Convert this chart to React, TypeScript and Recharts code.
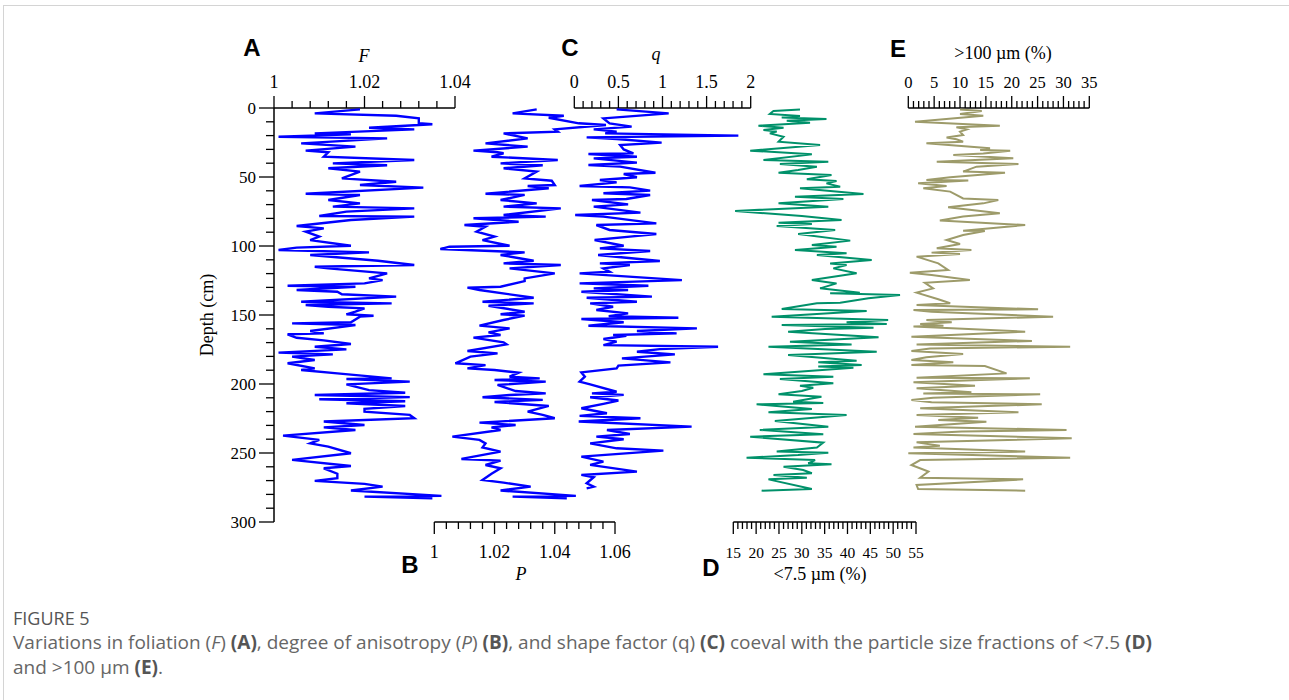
import React from "react";
import { ScatterChart, Scatter, XAxis, YAxis, ReferenceLine } from "recharts";

// [depth (cm), value] pairs
const foliation: [number, number][] = [
  [1, 1.019], [3.9, 1.009], [5.6, 1.027], [7.5, 1.032], [11.1, 1.032], [11.8, 1.035], [14.3, 1.021], [15.5, 1.031],
  [18.4, 1.009], [19.1, 1.017], [20.8, 1.001], [22, 1.025], [25.6, 1.006], [28, 1.018], [30.9, 1.007], [32.1, 1.012],
  [35.3, 1.011], [37.7, 1.031], [40.1, 1.013], [41.5, 1.025], [43.7, 1.012], [46.1, 1.019], [51, 1.015], [53.4, 1.027],
  [55.8, 1.019], [57.7, 1.033], [62.1, 1.007], [63, 1.019], [66.7, 1.012], [69.1, 1.019], [71.5, 1.013], [72.7, 1.031],
  [75.1, 1.016], [78.3, 1.01], [78.7, 1.031], [81.2, 1.017], [85.5, 1.005], [87.2, 1.011], [89.6, 1.007], [93.2, 1.01],
  [95.7, 1.008], [99.8, 1.017], [101.2, 1.005], [102.9, 1.001], [104.6, 1.021], [106.5, 1.008], [110.7, 1.023],
  [113.8, 1.031], [115, 1.009], [116.2, 1.012], [119.8, 1.025], [123.5, 1.021], [124.7, 1.024], [127.1, 1.02],
  [128.8, 1.003], [129.5, 1.018], [131.9, 1.005], [133.1, 1.014], [135, 1.015], [136.7, 1.027], [140.4, 1.006],
  [141.6, 1.026], [142.8, 1.007], [144, 1.012], [145.2, 1.02], [147.6, 1.018], [149.5, 1.016], [150.5, 1.022],
  [151.2, 1.019], [155.3, 1.017], [156.1, 1.004], [157.3, 1.018], [161.6, 1.008], [163.3, 1.011], [164, 1.003],
  [166.5, 1.005], [168.4, 1.011], [171, 1.017], [173, 1.009], [174.9, 1.016], [177.3, 1.001], [178.5, 1.013],
  [180.2, 1.004], [182.6, 1.009], [185, 1.003], [188.7, 1.009], [189.9, 1.006], [192.3, 1.014], [195.9, 1.026],
  [196.4, 1.016], [198.3, 1.03], [200.3, 1.016], [204.4, 1.021], [206.3, 1.029], [208, 1.009], [209.5, 1.03],
  [211, 1.01], [212.5, 1.029], [214, 1.016], [215.9, 1.029], [218, 1.02], [220, 1.02], [222.4, 1.03], [224.8, 1.031],
  [227.2, 1.011], [229.7, 1.02], [231.4, 1.011], [233.3, 1.018], [237.4, 1.002], [240.5, 1.01], [243, 1.008],
  [245.4, 1.012], [250.2, 1.017], [255, 1.004], [259.4, 1.017], [261.1, 1.011], [265, 1.014], [268.3, 1.014],
  [270.2, 1.009], [272.4, 1.02], [274.4, 1.024], [277.2, 1.017], [281.1, 1.037], [281.6, 1.02], [282.8, 1.035],
];

const anisotropy: [number, number][] = [
  [1, 1.034], [3.9, 1.026], [5.6, 1.043], [7.1, 1.038], [11.1, 1.048], [12.3, 1.057], [15.5, 1.04], [17.1, 1.041],
  [18.4, 1.023], [22, 1.031], [25.6, 1.017], [28, 1.031], [30.9, 1.013], [32.1, 1.021], [32.8, 1.023], [35.3, 1.019],
  [37.7, 1.041], [40.1, 1.022], [41.5, 1.036], [43.7, 1.023], [46.1, 1.034], [51, 1.03], [52.7, 1.039], [55.8, 1.04],
  [56.5, 1.031], [58.2, 1.038], [62.1, 1.017], [63, 1.03], [66.7, 1.022], [69.1, 1.034], [71.5, 1.023], [72.7, 1.042],
  [77.5, 1.023], [78.7, 1.037], [79.9, 1.013], [82.4, 1.028], [84.8, 1.01], [86, 1.017], [89.6, 1.014], [93.2, 1.02],
  [95.7, 1.016], [99.8, 1.025], [100.5, 1.005], [102.2, 1.002], [104.6, 1.03], [106.5, 1.022], [110.7, 1.033],
  [112.6, 1.023], [113.8, 1.042], [116.2, 1.025], [119.8, 1.04], [123.5, 1.03], [125.4, 1.03], [129.5, 1.022],
  [130.2, 1.011], [131.9, 1.015], [137.5, 1.033], [140.4, 1.016], [141.6, 1.033], [143.3, 1.018], [147.6, 1.03],
  [149.5, 1.022], [150.5, 1.03], [153.6, 1.023], [157.7, 1.015], [159.7, 1.025], [162.6, 1.018], [164.5, 1.022],
  [166.4, 1.013], [169.8, 1.023], [171.3, 1.024], [176.1, 1.011], [177.8, 1.021], [180.2, 1.012], [185, 1.007],
  [186.3, 1.017], [188.7, 1.011], [189.9, 1.02], [191.8, 1.028], [194.7, 1.025], [195.9, 1.035], [197.1, 1.02],
  [198.3, 1.037], [200.7, 1.021], [205.1, 1.027], [206.8, 1.037], [208, 1.025], [209.6, 1.016], [211.5, 1.036],
  [213, 1.02], [215.9, 1.038], [220, 1.031], [222.4, 1.036], [224.8, 1.04], [228, 1.015], [229.7, 1.027],
  [231.4, 1.019], [233.3, 1.022], [238.1, 1.006], [240.5, 1.015], [243, 1.017], [246, 1.016], [249, 1.022],
  [254.3, 1.009], [255.5, 1.022], [258.7, 1.017], [261.1, 1.022], [265, 1.019], [269.5, 1.016], [271.5, 1.023],
  [274.4, 1.032], [277.2, 1.022], [281.1, 1.047], [281.6, 1.026], [282.8, 1.044],
];

const shapeFactor: [number, number][] = [
  [1, 0.48], [3.9, 1.07], [7.5, 0.33], [11.1, 0.4], [13.5, 0.65], [15.5, 0.22], [17.1, 0.48], [18.4, 0.35],
  [20, 1.86], [21.3, 0.14], [22.5, 0.48], [25.1, 0.99], [26.8, 0.52], [30, 0.56], [32.9, 0.67], [33.3, 0.16],
  [35.3, 0.71], [36.5, 0.22], [39.6, 0.71], [41.3, 0.16], [42.5, 0.52], [46.9, 0.92], [47.8, 0.56], [50.2, 0.71],
  [52.2, 0.29], [53.9, 0.48], [56.5, 0.06], [57.5, 0.63], [59.9, 0.86], [61.8, 0.33], [63, 0.86], [65.9, 0.59],
  [66.7, 0.2], [69.8, 0.61], [71.5, 0.22], [75.8, 0.75], [77.5, 0.01], [78.7, 0.33], [83.6, 0.93], [84.8, 0.25],
  [88.4, 0.4], [91.3, 0.93], [93.2, 0.63], [95.7, 0.23], [99.8, 0.56], [101.7, 0.29], [103.6, 0.86], [106.5, 0.27],
  [110.9, 0.97], [112.6, 0.29], [113.8, 0.63], [116.2, 0.33], [118.6, 0.4], [119.8, 0.06], [124.7, 1.22],
  [127.1, 0.06], [128.8, 0.84], [130.7, 0.22], [131.9, 0.61], [133.1, 0.08], [136.7, 0.88], [137.5, 0.14],
  [140.4, 0.71], [141.6, 0.18], [144, 0.44], [146.4, 0.25], [148.8, 0.61], [150.8, 0.39], [152, 1.18], [152.9, 0.08],
  [155.3, 0.56], [157.8, 0.16], [159.7, 1.39], [161.6, 0.71], [163.3, 1.16], [164.5, 0.44], [165, 0.59], [167.4, 0.33],
  [169.3, 0.48], [171.8, 0.33], [173, 1.63], [174.7, 0.97], [176.6, 0.71], [178.5, 1.14], [181.4, 0.54], [184.3, 1.09],
  [186.7, 0.5], [188.7, 0.48], [191.6, 0.08], [194.7, 0.12], [198.3, 0.06], [200.3, 0.18], [205.6, 0.48], [206.8, 0.2],
  [207.9, 0.56], [209.6, 0.18], [212, 0.5], [214.4, 0.33], [217.6, 0.08], [221.2, 0.37], [223.1, 0.06], [224.8, 0.75],
  [227.2, 0.05], [230.9, 1.33], [233.3, 0.37], [236.2, 0.63], [238.1, 0.25], [240, 0.56], [243, 0.18], [246.6, 0.48],
  [248.3, 1.01], [252.6, 0.08], [256.2, 0.33], [258.6, 0.18], [263.5, 0.71], [265.9, 0.08], [267.6, 0.22],
  [271.9, 0.14], [274.4, 0.22], [275.6, 0.14],
];

// <7.5 µm (%)
const fineFraction: [number, number][] = [
  [1, 29.6], [2.2, 23.8], [4.3, 23], [5.8, 29.6], [6.8, 25.6], [8, 35.4], [9.2, 26.7], [10.6, 31.8], [12.8, 20.5],
  [14.3, 26], [15.9, 21.6], [17.1, 24.5], [18.4, 23], [20.8, 26], [24.4, 24.9], [26.8, 34], [30.9, 18.7], [33.6, 32.2],
  [37.7, 21.6], [38.9, 35.8], [40.6, 25.2], [42.5, 33.3], [44.9, 29.2], [46.9, 24.9], [48.6, 36.5], [51.7, 31.1],
  [52.9, 37.6], [54.6, 35.4], [57, 38.4], [58.2, 29.6], [62.3, 43.5], [64.3, 28.5], [65.9, 39.1], [69.1, 24.9],
  [71.5, 35.8], [74.6, 15.4], [78.3, 30], [81.2, 38.7], [83.1, 24.9], [84.1, 32.2], [85.5, 24.5], [88.4, 37.3],
  [91.3, 29.2], [96.1, 40.6], [99.3, 32.2], [100.5, 37.6], [102.9, 28.5], [105.3, 39.8], [106.5, 33.3], [110.1, 45.3],
  [112.6, 36.2], [113.8, 39.8], [116.2, 36.9], [119.8, 42], [124.6, 32.2], [127.1, 37.6], [130.7, 34], [133.8, 42.7],
  [134.3, 36.2], [135.5, 51.5], [137.9, 44.6], [141.1, 38.4], [141.5, 33.3], [145.7, 25.6], [147.1, 44.2],
  [148.1, 38.7], [151.2, 23.4], [153.6, 48.9], [155.3, 39.8], [156.5, 48.6], [157.2, 25.6], [159.2, 45.7],
  [160.1, 35.1], [162.1, 27], [166.2, 46.8], [169.3, 27.4], [171.3, 40.9], [173, 22.7], [174.9, 34.7], [176.6, 46.4],
  [179, 27], [183.1, 42], [184.3, 33.6], [186.2, 43.1], [187.4, 33.6], [188.2, 41.3], [193, 21.6], [194.7, 36.9],
  [196.4, 25.2], [199.5, 36.9], [201.2, 29.6], [202.7, 32.5], [205.1, 30], [207.5, 24.9], [209.2, 34.3], [212.8, 28.1],
  [213.8, 34.7], [214.7, 20.1], [218.1, 32.2], [220.5, 22.7], [222.5, 39.8], [226.8, 24.1], [230.9, 35.8],
  [233.3, 20.8], [236.5, 34.7], [238.2, 18.7], [242.5, 34.7], [246.1, 33.3], [249, 24.5], [249.8, 35.8], [251.5, 29.2],
  [253.4, 17.9], [255.1, 32.9], [257.5, 31.4], [258.2, 36.5], [259.9, 26], [262.3, 30.3], [264.7, 32.2], [266, 23.8],
  [267.9, 31.1], [269.1, 22.7], [276.1, 32.2], [277.3, 21.2],
];

// >100 µm (%)
const coarseFraction: [number, number][] = [
  [1, 10], [2.2, 14.2], [4.3, 10], [5.6, 14.5], [9.9, 1.3], [12.8, 17.7], [14, 9.3], [15.5, 11.3], [17.1, 10],
  [19.6, 10.6], [21.3, 7.4], [22.7, 9.3], [24.4, 10.6], [25.6, 3.5], [29.2, 15.8], [30.4, 13.9], [30.9, 19.7],
  [32.9, 14.5], [34.1, 8.7], [36.5, 20.3], [38.9, 5.5], [40.6, 21.3], [42.5, 13.2], [46.1, 10.6], [46.9, 18.7],
  [50.2, 8.1], [52.2, 3.5], [52.6, 11.6], [54.6, 1.9], [56.5, 7.4], [58.2, 2.9], [60.6, 8.1], [65.5, 10.6],
  [66.7, 17.4], [69.1, 14.5], [72, 7.7], [76.3, 17.7], [78.7, 10.6], [81.6, 6.1], [84.8, 22.6], [88.9, 10.6],
  [89.1, 14.8], [92, 10.6], [95.7, 7.4], [98.6, 10], [101.7, 5.5], [102.9, 12.2], [104.8, 4.5], [105.8, 10],
  [107.7, 1.6], [112.6, 5.8], [117.4, 7.7], [119.3, 0.3], [121, 4.5], [124.6, 11.9], [126.6, 3.2], [130.7, 4.8],
  [133.8, 1.6], [138.6, 5.8], [141.5, 8.1], [142.8, 1.6], [145.9, 25.1], [146.4, 1], [147.6, 4.5], [151.2, 28],
  [153.6, 3.5], [155.3, 8.4], [156.5, 2.3], [157.7, 6.8], [158.4, 1], [162.1, 22.6], [165.7, 0.6], [168.8, 23.9],
  [171.3, 1.6], [173, 31.3], [174.2, 4.2], [176.1, 0.6], [178.3, 10.6], [180.7, 3.5], [182.6, 0.6], [184.3, 8.7],
  [186.2, 0.6], [187, 14.8], [192.3, 19], [195.4, 1.6], [195.9, 23.5], [198.8, 1], [201.2, 12.9], [203.1, 1.6],
  [206, 12.2], [206.8, 2.9], [207.5, 25.5], [209.9, 4.8], [211.6, 0.6], [213.3, 4.5], [214.7, 25.8], [217.6, 2.3],
  [220.5, 21.3], [222.5, 1.6], [224.4, 13.5], [226.1, 5.8], [227.3, 15.1], [230.9, 1.3], [233.3, 30.6], [234.5, 10.3],
  [236.2, 1], [239.4, 31.6], [242.3, 1.6], [244.7, 6.1], [246.1, 1], [249, 22.6], [250.2, 0], [253.4, 31.3],
  [255.1, 2.3], [258.7, 0.6], [263.5, 3.9], [267.9, 2.3], [269.1, 22.2], [273.2, 1.6], [276.1, 1.9], [277.3, 22.6],
];

const depthTicks = [0, 10, 20, 30, 40, 50, 60, 70, 80, 90, 100, 110, 120, 130, 140, 150, 160, 170, 180, 190, 200,
  210, 220, 230, 240, 250, 260, 270, 280, 290, 300];
const depthLabels = [0, 50, 100, 150, 200, 250, 300];

const fTicks = [1, 1.004, 1.008, 1.012, 1.016, 1.02, 1.024, 1.028, 1.032, 1.036, 1.04];
const fLabels = [1, 1.02, 1.04];
const pTicks = [1, 1.004, 1.008, 1.012, 1.016, 1.02, 1.024, 1.028, 1.032, 1.036, 1.04, 1.044, 1.048, 1.052, 1.056, 1.06];
const pLabels = [1, 1.02, 1.04, 1.06];
const qTicks = [0, 0.1, 0.2, 0.3, 0.4, 0.5, 0.6, 0.7, 0.8, 0.9, 1, 1.1, 1.2, 1.3, 1.4, 1.5, 1.6, 1.7, 1.8, 1.9, 2];
const qLabels = [0, 0.5, 1, 1.5, 2];
const fineTicks = Array.from({ length: 41 }, (_, i) => 15 + i);
const fineLabels = [15, 20, 25, 30, 35, 40, 45, 50, 55];
const coarseTicks = Array.from({ length: 36 }, (_, i) => i);
const coarseLabels = [0, 5, 10, 15, 20, 25, 30, 35];

const W = 1289;
const H = 700;
const PLOT_L = 274;
const PLOT_R = 1090;
const PLOT_T = 108;
const PLOT_B = 522;
const Y_AXIS_W = 60;

// each panel's scale only occupies part of the shared plot width
function span(v0: number, v1: number, p0: number, p1: number): [number, number] {
  const k = (v1 - v0) / (p1 - p0);
  return [v0 - (p0 - PLOT_L) * k, v1 + (PLOT_R - p1) * k];
}

const SERIF = "Liberation Serif";
const BLUE = "#0000ff";
const GREEN = "#00916a";
const OLIVE = "#9d9b6a";

const toPoints = (rows: [number, number][]) => rows.map(([d, v]) => ({ d, v }));

const isIn = (list: number[], v: number) => list.some((l) => Math.abs(l - v) < 1e-9);

const makeTick = (side: "top" | "bottom", labels: number[], fontSize: number) => (props: any) => {
  const { x, y, payload } = props;
  const major = isIn(labels, payload.value);
  const dir = side === "top" ? -1 : 1;
  const len = major ? 12 : 7;
  return (
    <g>
      <line x1={x} x2={x} y1={y} y2={y + dir * len} stroke="#000" strokeWidth={1.3} />
      {major && (
        <text x={x} y={side === "top" ? y - 20 : y + 36} textAnchor="middle"
          style={{ fontSize, fontFamily: SERIF, fill: "#000" }}>
          {String(payload.value)}
        </text>
      )}
    </g>
  );
};

const depthTick = (props: any) => {
  const { x, y, payload } = props;
  const major = isIn(depthLabels, payload.value);
  return (
    <g>
      <line x1={x - (major ? 15 : 8)} x2={x} y1={y} y2={y} stroke="#000" strokeWidth={1.3} />
      {major && (
        <text x={x - 18} y={y + 6} textAnchor="end" style={{ fontSize: 17, fontFamily: SERIF, fill: "#000" }}>
          {String(payload.value)}
        </text>
      )}
    </g>
  );
};

const NoDot = () => <g />;

function Txt({ x, y, children, style }: { x: number; y: number; children: React.ReactNode; style?: React.CSSProperties }) {
  return (
    <div style={{ position: "absolute", left: x, top: y, transform: "translate(-50%, -50%)", whiteSpace: "nowrap",
      lineHeight: 1, fontFamily: SERIF, fontSize: 18, color: "#000", ...style }}>
      {children}
    </div>
  );
}

// tiny height: a zero-height axis is not drawn, and same-side axes stack by their height
const axisCommon = { type: "number" as const, height: 0.001, tickSize: 0, tickMargin: 0, tickLine: false,
  axisLine: false, interval: 0 as const, allowDataOverflow: true, dataKey: "v" };

export default function App() {
  const letter: React.CSSProperties = { fontFamily: "Liberation Sans", fontWeight: 700, fontSize: 24 };
  const cap: React.CSSProperties = { fontFamily: "Open Sans", fontSize: 19, color: "#666" };
  const b: React.CSSProperties = { fontWeight: 700, color: "#555" };
  return (
    <div style={{ position: "absolute", left: 0, top: 0, width: W, height: H, background: "#fff", overflow: "hidden" }}>
      <div style={{ position: "absolute", left: 3, top: 5, width: W, height: H, borderTop: "1px solid #d4d4d4",
        borderLeft: "1px solid #d4d4d4" }} />
      <div style={{ position: "absolute", left: 0, top: 0 }}>
        <ScatterChart width={W} height={H}
          margin={{ top: PLOT_T, bottom: H - PLOT_B, left: PLOT_L - Y_AXIS_W, right: W - PLOT_R }}>
          <YAxis yAxisId="d" type="number" dataKey="d" domain={[0, 300]} reversed ticks={depthTicks} width={Y_AXIS_W}
            tickSize={0} tickMargin={0} tickLine={false} interval={0} tick={depthTick}
            axisLine={{ stroke: "#000", strokeWidth: 1.5 }} />
          <XAxis xAxisId="F" orientation="top" {...axisCommon} domain={span(1, 1.04, 274, 455)} ticks={fTicks}
            tick={makeTick("top", fLabels, 18)} />
          <XAxis xAxisId="P" orientation="bottom" {...axisCommon} domain={span(1, 1.06, 434.3, 615)} ticks={pTicks}
            tick={makeTick("bottom", pLabels, 18)} />
          <XAxis xAxisId="q" orientation="top" {...axisCommon} domain={span(0, 2, 574.3, 750.7)} ticks={qTicks}
            tick={makeTick("top", qLabels, 18)} />
          <XAxis xAxisId="fine" orientation="bottom" {...axisCommon} domain={span(15, 55, 733.3, 916)} ticks={fineTicks}
            tick={makeTick("bottom", fineLabels, 15.5)} />
          <XAxis xAxisId="coarse" orientation="top" {...axisCommon} domain={span(0, 35, 908.3, 1089.3)} ticks={coarseTicks}
            tick={makeTick("top", coarseLabels, 16.5)} />

          <ReferenceLine xAxisId="F" yAxisId="d" segment={[{ x: 1, y: 0 }, { x: 1.04, y: 0 }]} stroke="#000"
            strokeWidth={1.5} ifOverflow="visible" />
          <ReferenceLine xAxisId="P" yAxisId="d" segment={[{ x: 1, y: 300 }, { x: 1.06, y: 300 }]} stroke="#000"
            strokeWidth={1.5} ifOverflow="visible" />
          <ReferenceLine xAxisId="q" yAxisId="d" segment={[{ x: 0, y: 0 }, { x: 2, y: 0 }]} stroke="#000"
            strokeWidth={1.5} ifOverflow="visible" />
          <ReferenceLine xAxisId="fine" yAxisId="d" segment={[{ x: 15, y: 300 }, { x: 55, y: 300 }]} stroke="#000"
            strokeWidth={1.5} ifOverflow="visible" />
          <ReferenceLine xAxisId="coarse" yAxisId="d" segment={[{ x: 0, y: 0 }, { x: 35, y: 0 }]} stroke="#000"
            strokeWidth={1.5} ifOverflow="visible" />

          <Scatter xAxisId="F" yAxisId="d" data={toPoints(foliation)} line={{ stroke: BLUE, strokeWidth: 2.4 }}
            shape={NoDot} isAnimationActive={false} />
          <Scatter xAxisId="P" yAxisId="d" data={toPoints(anisotropy)} line={{ stroke: BLUE, strokeWidth: 2.4 }}
            shape={NoDot} isAnimationActive={false} />
          <Scatter xAxisId="q" yAxisId="d" data={toPoints(shapeFactor)} line={{ stroke: BLUE, strokeWidth: 2.4 }}
            shape={NoDot} isAnimationActive={false} />
          <Scatter xAxisId="fine" yAxisId="d" data={toPoints(fineFraction)} line={{ stroke: GREEN, strokeWidth: 2 }}
            shape={NoDot} isAnimationActive={false} />
          <Scatter xAxisId="coarse" yAxisId="d" data={toPoints(coarseFraction)} line={{ stroke: OLIVE, strokeWidth: 2 }}
            shape={NoDot} isAnimationActive={false} />
        </ScatterChart>
      </div>

      <Txt x={252} y={48} style={letter}>A</Txt>
      <Txt x={570} y={48} style={letter}>C</Txt>
      <Txt x={898} y={49} style={letter}>E</Txt>
      <Txt x={410} y={565} style={letter}>B</Txt>
      <Txt x={711} y={568} style={letter}>D</Txt>

      <Txt x={364} y={56} style={{ fontStyle: "italic" }}>F</Txt>
      <Txt x={656} y={54} style={{ fontStyle: "italic" }}>q</Txt>
      <Txt x={1003} y={53}>&gt;100 µm (%)</Txt>
      <Txt x={521} y={574} style={{ fontStyle: "italic" }}>P</Txt>
      <Txt x={820} y={574}>&lt;7.5 µm (%)</Txt>
      <Txt x={207} y={315} style={{ transform: "translate(-50%, -50%) rotate(-90deg)" }}>Depth (cm)</Txt>

      <div style={{ position: "absolute", left: 13, top: 607, ...cap, fontSize: 18, lineHeight: "22px", color: "#555" }}>
        FIGURE 5
      </div>
      <div style={{ position: "absolute", left: 13, top: 630, whiteSpace: "nowrap", ...cap, lineHeight: "25px" }}>
        Variations in foliation (<i>F</i>) <span style={b}>(A)</span>, degree of anisotropy (<i>P</i>) <span style={b}>(B)</span>,
        and shape factor (q) <span style={b}>(C)</span> coeval with the particle size fractions of &lt;7.5 <span style={b}>(D)</span>
        <br />
        and &gt;100 μm <span style={b}>(E)</span>.
      </div>
    </div>
  );
}
